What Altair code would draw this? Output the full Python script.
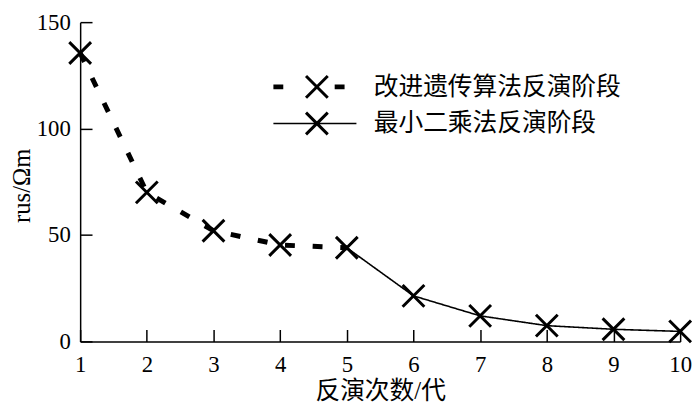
import altair as alt
import pandas as pd

# ---- data ----
iterations = [1, 2, 3, 4, 5, 6, 7, 8, 9, 10]
rho_values = [135.5, 70.0, 52.0, 45.3, 44.0, 21.4, 12.0, 7.4, 5.7, 4.7]
series_names = ["改进遗传算法反演阶段", "最小二乘法反演阶段"]
ga_iterations = [1, 2, 3, 4, 5]
ls_iterations = [5, 6, 7, 8, 9, 10]
x_ticks = [1, 2, 3, 4, 5, 6, 7, 8, 9, 10]
y_ticks = [0, 50, 100, 150]

lookup = dict(zip(iterations, rho_values))
line_rows = []
for name, its in zip(series_names, [ga_iterations, ls_iterations]):
    for it in its:
        line_rows.append({"iter": it, "rho": lookup[it], "series": name})
line_df = pd.DataFrame(line_rows)
point_df = pd.DataFrame({"iter": iterations, "rho": rho_values})

W, H = 607, 323
SERIF = "Liberation Serif"
CJK = "Noto Sans CJK SC"
MIXED = "Liberation Serif, Noto Sans CJK SC"

X_PATH = "M-1,-1L1,1M-1,1L1,-1"
# legend glyphs drawn as filled outlines (line sample + cross)
CROSS_FILL = ("M-0.994,-1.206L1.206,0.994L0.994,1.206L-1.206,-0.994Z "
              "M-0.994,1.206L-1.206,0.994L0.994,-1.206L1.206,-0.994Z")
DASH_SYM = ("M-4.4,-0.24H-3.4V0.24H-4.4Z M1.8,-0.24H2.8V0.24H1.8Z " + CROSS_FILL)
SOLID_SYM = "M-4.4,-0.08H4V0.08H-4.4Z " + CROSS_FILL

x_scale = alt.Scale(domain=[1, 10], nice=False, zero=False)
y_scale = alt.Scale(domain=[0, 150], nice=False)

x_axis = alt.Axis(
    values=x_ticks, format="d", title="反演次数/代",
    ticks=False, tickSize=0,
    grid=True, gridDash=[0, H - 12, 12, 10], gridColor="black", gridWidth=1.5, gridOpacity=1,
    domainColor="black", domainWidth=1.5,
    labelFont=SERIF, labelFontSize=23, labelColor="black", labelPadding=12,
    labelFlush=False, labelOverlap=False,
    titleFont=MIXED, titleFontSize=25, titleFontWeight="normal", titleColor="black",
    titleX=W / 2, titleY=58, titleBaseline="alphabetic", titleAlign="center",
)
y_axis = alt.Axis(
    values=y_ticks, format="d", title="rus/Ωm",
    ticks=False, tickSize=0,
    grid=True, gridDash=[12, 2000], gridColor="black", gridWidth=1.5, gridOpacity=1,
    domainColor="black", domainWidth=1.5,
    labelFont=SERIF, labelFontSize=23, labelColor="black", labelPadding=10,
    labelFlush=False, labelOverlap=False,
    titleFont=SERIF, titleFontSize=25, titleFontWeight="normal", titleColor="black",
    titleX=-51, titleY=165, titleAngle=270, titleBaseline="alphabetic", titleAlign="center",
)

lines = alt.Chart(line_df).mark_line(
    interpolate="linear", strokeCap="butt", strokeJoin="round", color="black"
).encode(
    x=alt.X("iter:Q", scale=x_scale, axis=x_axis),
    y=alt.Y("rho:Q", scale=y_scale, axis=y_axis),
    detail="series:N",
    strokeDash=alt.StrokeDash(
        "series:N",
        scale=alt.Scale(domain=series_names, range=[[10, 18], [1, 0]]),
        legend=None,
    ),
    strokeWidth=alt.StrokeWidth(
        "series:N",
        scale=alt.Scale(type="ordinal", domain=series_names, range=[5, 1.6]),
        legend=None,
    ),
)

points = alt.Chart(point_df).mark_point(
    shape=X_PATH, size=484, filled=False, strokeWidth=3, color="black", opacity=1
).encode(
    x=alt.X("iter:Q", scale=x_scale),
    y=alt.Y("rho:Q", scale=y_scale),
)

legend_layer = alt.Chart(line_df).mark_point(
    filled=True, color="black", opacity=0
).encode(
    x=alt.X("iter:Q", scale=x_scale),
    y=alt.Y("rho:Q", scale=y_scale),
    shape=alt.Shape(
        "series:N",
        scale=alt.Scale(domain=series_names, range=[DASH_SYM, SOLID_SYM]),
        legend=alt.Legend(
            title=None, orient="none", legendX=227, legendY=53,
            symbolSize=400, symbolStrokeWidth=0,
            symbolFillColor="black", symbolOpacity=1,
            labelFont=CJK, labelFontSize=25, labelColor="black",
            labelOffset=45, labelLimit=400, rowPadding=11, padding=0,
        ),
    ),
)

chart = alt.layer(lines, points, legend_layer).resolve_legend(
    shape="independent", strokeDash="independent", strokeWidth="independent"
).properties(
    width=W, height=H,
    autosize=alt.AutoSizeParams(type="none"),
    padding={"left": 73, "top": 12, "right": 12, "bottom": 60},
).configure_view(stroke=None)

chart.save("out.html", embed_options={"renderer": "svg", "actions": False})
